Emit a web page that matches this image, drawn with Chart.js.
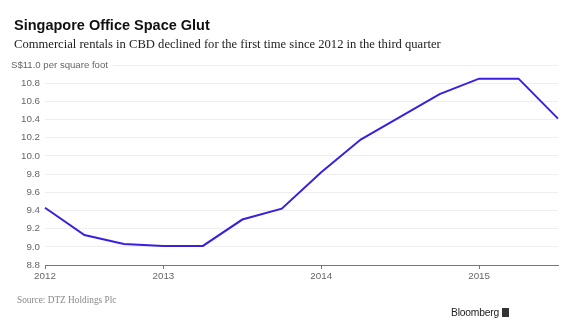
<!DOCTYPE html>
<html>
<head>
<meta charset="utf-8">
<script src="https://cdn.jsdelivr.net/npm/chart.js@4"></script>
<style>
  html, body { margin: 0; padding: 0; background: #fff; }
  #wrap { position: relative; width: 580px; height: 329px; overflow: hidden; }
  #rentChart { position: absolute; left: 0; top: 0; }
  .title { position: absolute; left: 14px; top: 17px; font: bold 14.5px "Liberation Sans", Arial, sans-serif; color: #111; }
  .subtitle { position: absolute; left: 14px; top: 37px; font: 12.6px "Liberation Serif", serif; color: #222; }
  .source { position: absolute; left: 17px; top: 295px; font: 9.3px "Liberation Serif", serif; color: #888; }
  .brand { position: absolute; left: 451px; top: 307px; font: 500 10.3px "Liberation Sans", Arial, sans-serif; color: #222; letter-spacing: -0.2px; }
  .brand span { display: inline-block; width: 7px; height: 9px; background: #333; margin-left: 3px; vertical-align: -1px; }
</style>
</head>
<body>
<div id="wrap">
  <canvas id="rentChart" width="580" height="329"></canvas>
  <div class="title">Singapore Office Space Glut</div>
  <div class="subtitle">Commercial rentals in CBD declined for the first time since 2012 in the third quarter</div>
  <div class="source">Source: DTZ Holdings Plc</div>
  <div class="brand">Bloomberg<span></span></div>
</div>
<script>
// quarterly CBD office rents, S$ per square foot
const quarterLabels = ['2012', '', '', '2013', '', '', '', '2014', '', '', '', '2015', '', ''];
const rents = [9.43, 9.13, 9.03, 9.01, 9.01, 9.30, 9.42, 9.82, 10.18, 10.43, 10.68, 10.85, 10.85, 10.41];
const yTicks = [8.8, 9.0, 9.2, 9.4, 9.6, 9.8, 10.0, 10.2, 10.4, 10.6, 10.8, 11.0];

const GRID = '#eeeeee';
const AXIS = '#777777';
const TICK_FONT = { family: '"Liberation Sans", Arial, sans-serif', size: 9.8 };

// top tick gets a unit label and a shortened grid line
const unitLabel = {
    id: 'unitLabel',
    afterDraw(chart) {
        const ctx = chart.ctx;
        const y = chart.scales.y.getPixelForValue(11);
        ctx.save();
        ctx.font = '9.6px "Liberation Sans", Arial, sans-serif';
        ctx.fillStyle = '#666';
        ctx.textBaseline = 'middle';
        ctx.textAlign = 'left';
        const text = 'S$11.0 per square foot';
        ctx.fillText(text, 11, y);
        const w = ctx.measureText(text).width;
        ctx.strokeStyle = GRID;
        ctx.lineWidth = 1;
        ctx.beginPath();
        ctx.moveTo(11 + w + 5, Math.round(y) + 0.5);
        ctx.lineTo(chart.chartArea.right, Math.round(y) + 0.5);
        ctx.stroke();
        ctx.restore();
    }
};

new Chart(document.getElementById('rentChart'), {
    type: 'line',
    data: {
        labels: quarterLabels,
        datasets: [{
            data: rents,
            borderColor: '#3a1fe0',
            borderWidth: 2,
            pointRadius: 0,
            tension: 0,
            fill: false
        }]
    },
    options: {
        responsive: false,
        animation: false,
        events: [],
        layout: { padding: { top: 65, left: 0, right: 22, bottom: 44 } },
        plugins: { legend: { display: false }, tooltip: { enabled: false } },
        scales: {
            x: {
                offset: false,
                afterFit(scale) { scale.height = 20; },
                border: { display: true, color: AXIS, width: 1 },
                grid: {
                    drawOnChartArea: false,
                    drawTicks: true,
                    tickLength: 4,
                    tickColor: ctx => quarterLabels[ctx.index] ? AXIS : 'rgba(0,0,0,0)'
                },
                ticks: {
                    autoSkip: false,
                    maxRotation: 0,
                    padding: 1,
                    color: '#666',
                    font: TICK_FONT
                }
            },
            y: {
                min: 8.8,
                max: 11.0,
                afterFit(scale) { scale.width = 45; },
                afterBuildTicks(scale) { scale.ticks = yTicks.map(v => ({ value: v })); },
                border: { display: false },
                grid: {
                    drawTicks: false,
                    color: ctx => ctx.tick && ctx.tick.value >= 11 ? 'rgba(0,0,0,0)' : GRID
                },
                ticks: {
                    padding: 5,
                    color: '#666',
                    font: TICK_FONT,
                    callback: v => v >= 11 ? '' : v.toFixed(1)
                }
            }
        }
    },
    plugins: [unitLabel]
});
</script>
</body>
</html>
